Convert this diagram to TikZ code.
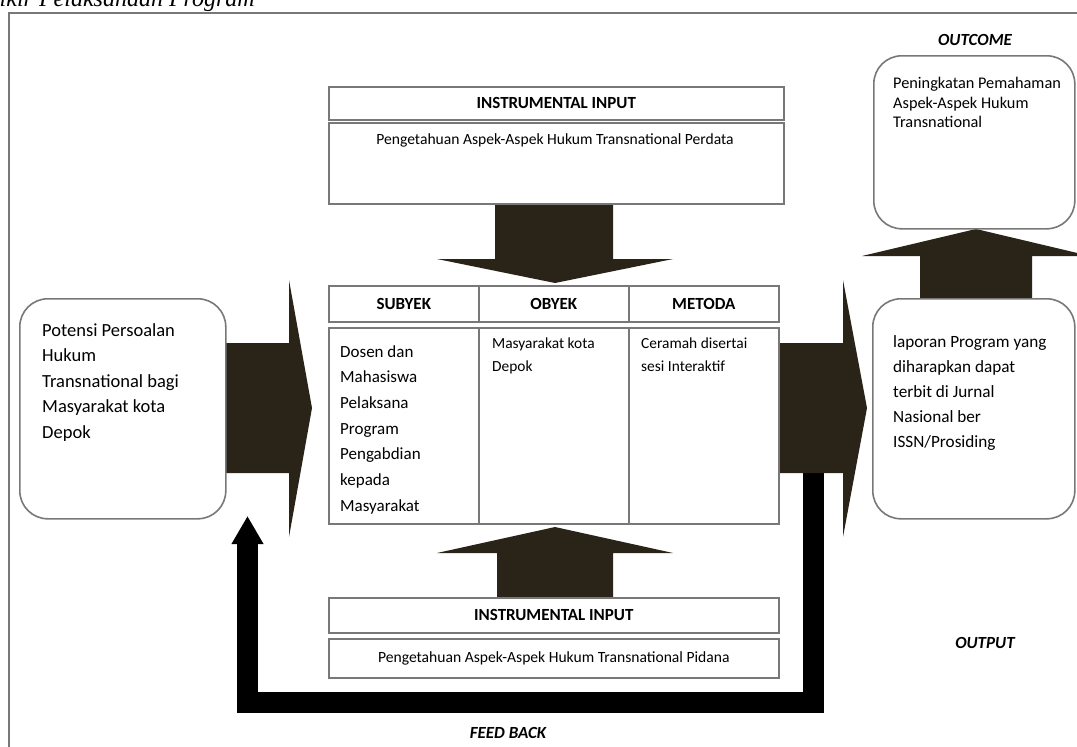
\documentclass[tikz,border=0pt]{standalone}
\usepackage{fontspec}
\setmainfont{Carlito}
\newfontfamily\titlefont{Liberation Serif}
\usetikzlibrary{arrows.meta}

\definecolor{arrowbrown}{RGB}{42,35,24}
\definecolor{boxgray}{RGB}{120,120,120}

\tikzset{
  box/.style={draw=boxgray, line width=1.6pt, fill=white, anchor=north west, inner sep=0pt},
  rbox/.style={box, rounded corners=28pt},
  head/.style={font=\fontsize{17}{20}\selectfont\bfseries},
  txt/.style={anchor=north west, align=left, inner sep=0pt},
  label/.style={font=\fontsize{17}{20}\selectfont\bfseries\itshape},
  bigarrow/.style={fill=arrowbrown},
  feedback/.style={line width=21pt, line join=miter, -{Triangle[width=30pt,length=28pt]}}
}

\begin{document}
\begin{tikzpicture}[x=1pt, y=-1pt]
  \useasboundingbox (0,0) rectangle (1077,747);
  \clip (0,0) rectangle (1077,747);

  % title (cut off) and frame
  \node[anchor=base east, inner sep=0pt, font=\titlefont\fontsize{24}{28}\selectfont\itshape] (title) at (255,6) {Pikir Pelaksanaan Program};
  \draw[draw=boxgray, line width=1.6pt] (9,13) rectangle (1100,770);

  % feed back line
  \coordinate (fbstart) at (813,473);
  \coordinate (fbcorner) at (247.5,702);
  \coordinate (fbend) at (247.5,516);
  \draw[feedback] (fbstart) |- (fbcorner) -- (fbend);

  % block arrows
  \fill[bigarrow] (224,343) -- (289,343) -- (289,280) -- (312,408) -- (289,537) -- (289,473) -- (224,473) -- cycle;
  \fill[bigarrow] (776,343) -- (843,343) -- (843,280) -- (867,408) -- (843,537) -- (843,473) -- (776,473) -- cycle;
  \fill[bigarrow] (495,200) -- (613,200) -- (613,259) -- (673,259) -- (555,283) -- (437,259) -- (495,259) -- cycle;
  \fill[bigarrow] (497,600) -- (613,600) -- (613,553) -- (673,553) -- (555,527) -- (437,553) -- (497,553) -- cycle;
  \fill[bigarrow] (920,300) -- (1032,300) -- (1032,256) -- (1090,256) -- (976,229) -- (862,256) -- (920,256) -- cycle;

  % left and right boxes
  \node[rbox, minimum width=206pt, minimum height=220pt] (potensi) at (19,298) {};
  \node[txt, font=\fontsize{18.5}{25.6}\selectfont] (potensitxt) at (42,323)
    {Potensi Persoalan\\Hukum\\Transnational bagi\\Masyarakat kota\\Depok};
  \node[rbox, minimum width=202pt, minimum height=220pt] (output) at (872,298) {};
  \node[txt, font=\fontsize{17.2}{25}\selectfont] (outputtxt) at (893,335)
    {laporan Program yang\\diharapkan dapat\\terbit di Jurnal\\Nasional ber\\ISSN/Prosiding};
  \node[rbox, minimum width=201pt, minimum height=173pt] (outcome) at (873,55) {};
  \node[txt, font=\fontsize{16.3}{19.5}\selectfont] (outcometxt) at (893,77)
    {Peningkatan Pemahaman\\Aspek-Aspek Hukum\\Transnational};

  % top instrumental input
  \node[box, minimum width=455pt, minimum height=33pt, head] (tophead) at (328,86) {INSTRUMENTAL INPUT};
  \node[box, minimum width=455pt, minimum height=81pt] (topbody) at (328,122) {};
  \node[anchor=north, inner sep=0pt, font=\fontsize{15.6}{18}\selectfont] (topbodytxt) at (555,133)
    {Pengetahuan Aspek-Aspek Hukum Transnational Perdata};

  % table
  \node[box, minimum width=150pt, minimum height=36pt, head] (subyek) at (328,285) {SUBYEK};
  \node[box, minimum width=150pt, minimum height=36pt, head] (obyek) at (478,285) {OBYEK};
  \node[box, minimum width=150pt, minimum height=36pt, head] (metoda) at (628,285) {METODA};
  \node[box, minimum width=150pt, minimum height=196pt] (subyekbody) at (328,327) {};
  \node[box, minimum width=150pt, minimum height=196pt] (obyekbody) at (478,327) {};
  \node[box, minimum width=150pt, minimum height=196pt] (metodabody) at (628,327) {};
  \node[txt, font=\fontsize{17}{25.7}\selectfont] (subyektxt) at (340,345)
    {Dosen dan\\Mahasiswa\\Pelaksana\\Program\\Pengabdian\\kepada\\Masyarakat};
  \node[txt, font=\fontsize{15.4}{23}\selectfont] (obyektxt) at (492,338)
    {Masyarakat kota\\Depok};
  \node[txt, font=\fontsize{15.4}{23}\selectfont] (metodatxt) at (641,338)
    {Ceramah disertai\\sesi Interaktif};

  % bottom instrumental input
  \node[box, minimum width=450pt, minimum height=35pt, head] (bothead) at (328,597) {INSTRUMENTAL INPUT};
  \node[box, minimum width=450pt, minimum height=39pt, font=\fontsize{15.6}{18}\selectfont] (botbody) at (328,638)
    {Pengetahuan Aspek-Aspek Hukum Transnational Pidana};

  % labels
  \node[label] (outcomelbl) at (975,40) {OUTCOME};
  \node[label] (outputlbl) at (985,643) {OUTPUT};
  \node[label] (feedbacklbl) at (508,733) {FEED BACK};
\end{tikzpicture}
\end{document}
